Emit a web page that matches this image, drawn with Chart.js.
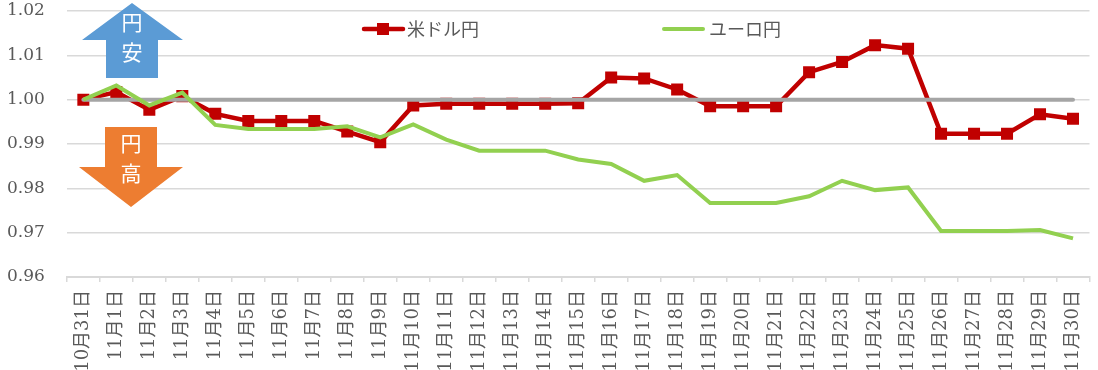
<!DOCTYPE html>
<html>
<head>
<meta charset="utf-8">
<script src="https://cdn.jsdelivr.net/npm/chart.js@4"></script>
<style>
html, body { margin: 0; padding: 0; background: #fff; }
#wrap { width: 1098px; height: 370px; }
</style>
</head>
<body>
<div id="wrap"><canvas id="myChart"></canvas></div>
<script>
var days = ['10月31日', '11月1日', '11月2日', '11月3日', '11月4日', '11月5日', '11月6日', '11月7日',
    '11月8日', '11月9日', '11月10日', '11月11日', '11月12日', '11月13日', '11月14日', '11月15日',
    '11月16日', '11月17日', '11月18日', '11月19日', '11月20日', '11月21日', '11月22日', '11月23日',
    '11月24日', '11月25日', '11月26日', '11月27日', '11月28日', '11月29日', '11月30日'];

var usdJpy = [1.0000, 1.0017, 0.9977, 1.0008, 0.9968, 0.9952, 0.9952, 0.9952, 0.9928, 0.9904,
    0.9987, 0.9991, 0.9991, 0.9991, 0.9991, 0.9992, 1.0050, 1.0048, 1.0023, 0.9985,
    0.9985, 0.9985, 1.0062, 1.0085, 1.0123, 1.0115, 0.9923, 0.9923, 0.9923, 0.9967, 0.9957];

var eurJpy = [1.0000, 1.0032, 0.9987, 1.0016, 0.9943, 0.9934, 0.9934, 0.9934, 0.9940, 0.9915,
    0.9944, 0.9910, 0.9885, 0.9885, 0.9885, 0.9865, 0.9855, 0.9817, 0.9830, 0.9767,
    0.9767, 0.9767, 0.9782, 0.9817, 0.9796, 0.9802, 0.9704, 0.9704, 0.9704, 0.9706, 0.9687];

// 基準線 (1.00)
var parity = [1, 1, 1, 1, 1, 1, 1, 1, 1, 1, 1, 1, 1, 1, 1, 1, 1, 1, 1, 1, 1, 1, 1, 1, 1, 1, 1, 1, 1, 1, 1];

var seriesNames = ['米ドル円', 'ユーロ円'];
var yMin = 0.96, yMax = 1.02, yStep = 0.01;

var serif = "'DejaVu Serif', 'Noto Sans CJK JP', serif";
var textColor = '#595959';
var gridColor = '#d9d9d9';

// 円安・円高の矢印
var arrowPlugin = {
    id: 'arrows',
    beforeDatasetsDraw: function(chart) {
        var ctx = chart.ctx;
        ctx.save();
        ctx.fillStyle = '#5b9bd5';
        ctx.beginPath();
        ctx.moveTo(132, 3);
        ctx.lineTo(183, 40);
        ctx.lineTo(158, 40);
        ctx.lineTo(158, 78);
        ctx.lineTo(106, 78);
        ctx.lineTo(106, 40);
        ctx.lineTo(82, 40);
        ctx.closePath();
        ctx.fill();

        ctx.fillStyle = '#ed7d31';
        ctx.beginPath();
        ctx.moveTo(105, 127);
        ctx.lineTo(157, 127);
        ctx.lineTo(157, 167);
        ctx.lineTo(183, 167);
        ctx.lineTo(131, 207);
        ctx.lineTo(79, 167);
        ctx.lineTo(105, 167);
        ctx.closePath();
        ctx.fill();

        ctx.fillStyle = '#ffffff';
        ctx.font = "21px 'Noto Sans CJK JP'";
        ctx.textAlign = 'center';
        ctx.textBaseline = 'middle';
        ctx.fillText('円', 132, 22);
        ctx.fillText('安', 132, 52);
        ctx.fillText('円', 131, 143);
        ctx.fillText('高', 131, 173);
        ctx.restore();
    }
};

// 凡例 (線+マーカー)
var legendPlugin = {
    id: 'lineLegend',
    afterDraw: function(chart) {
        var ctx = chart.ctx;
        var y = 29;
        ctx.save();
        ctx.lineCap = 'round';
        ctx.strokeStyle = '#c00000';
        ctx.lineWidth = 4.5;
        ctx.beginPath();
        ctx.moveTo(364, y);
        ctx.lineTo(403, y);
        ctx.stroke();
        ctx.fillStyle = '#c00000';
        ctx.fillRect(377, y - 6, 12, 12);

        ctx.strokeStyle = '#92d050';
        ctx.lineWidth = 4;
        ctx.beginPath();
        ctx.moveTo(664, y);
        ctx.lineTo(703, y);
        ctx.stroke();

        ctx.fillStyle = textColor;
        ctx.font = "18px 'Noto Sans CJK JP'";
        ctx.textAlign = 'left';
        ctx.textBaseline = 'middle';
        ctx.fillText(seriesNames[0], 407, y);
        ctx.fillText(seriesNames[1], 709, y);
        ctx.restore();
    }
};

var options = {
    type: 'line',
    data: {
        labels: days,
        datasets: [{
            label: seriesNames[1],
            data: eurJpy,
            borderColor: '#92d050',
            backgroundColor: '#92d050',
            borderWidth: 4,
            pointRadius: 0,
            tension: 0,
            order: 0
        }, {
            label: '基準',
            data: parity,
            borderColor: '#a5a5a5',
            borderWidth: 4,
            pointRadius: 0,
            borderCapStyle: 'round',
            order: 1
        }, {
            label: seriesNames[0],
            data: usdJpy,
            borderColor: '#c00000',
            backgroundColor: '#c00000',
            borderWidth: 4.5,
            pointStyle: 'rect',
            pointRadius: 8.5,
            pointHoverRadius: 8.5,
            pointBorderWidth: 0,
            tension: 0,
            order: 2
        }]
    },
    options: {
        responsive: true,
        maintainAspectRatio: false,
        animation: false,
        layout: {
            padding: { left: 7, top: 11, right: 7, bottom: 0 }
        },
        plugins: {
            legend: { display: false },
            tooltip: { enabled: false }
        },
        scales: {
            x: {
                offset: true,
                afterFit: function(scale) {
                    scale.height = 93;
                    scale.paddingLeft = 0;
                    scale.paddingRight = 0;
                },
                grid: {
                    offset: true,
                    drawOnChartArea: false,
                    drawTicks: true,
                    tickLength: 5,
                    color: gridColor,
                    lineWidth: 1.5
                },
                border: { display: true, color: gridColor, width: 2 },
                ticks: {
                    autoSkip: false,
                    minRotation: 90,
                    maxRotation: 90,
                    padding: 8,
                    color: textColor,
                    font: { family: serif, size: 18 }
                }
            },
            y: {
                min: yMin,
                max: yMax,
                grid: {
                    color: gridColor,
                    lineWidth: 1.5,
                    drawTicks: true,
                    tickLength: 22,
                    tickColor: 'rgba(0,0,0,0)'
                },
                border: { display: false },
                ticks: {
                    stepSize: yStep,
                    padding: 0,
                    color: textColor,
                    font: { family: serif, size: 17 },
                    callback: function(value) {
                        return Number(value).toFixed(2);
                    }
                }
            }
        }
    },
    plugins: [arrowPlugin, legendPlugin]
};

var ctx = document.getElementById('myChart');
var chart = new Chart(ctx, options);
</script>
</body>
</html>
